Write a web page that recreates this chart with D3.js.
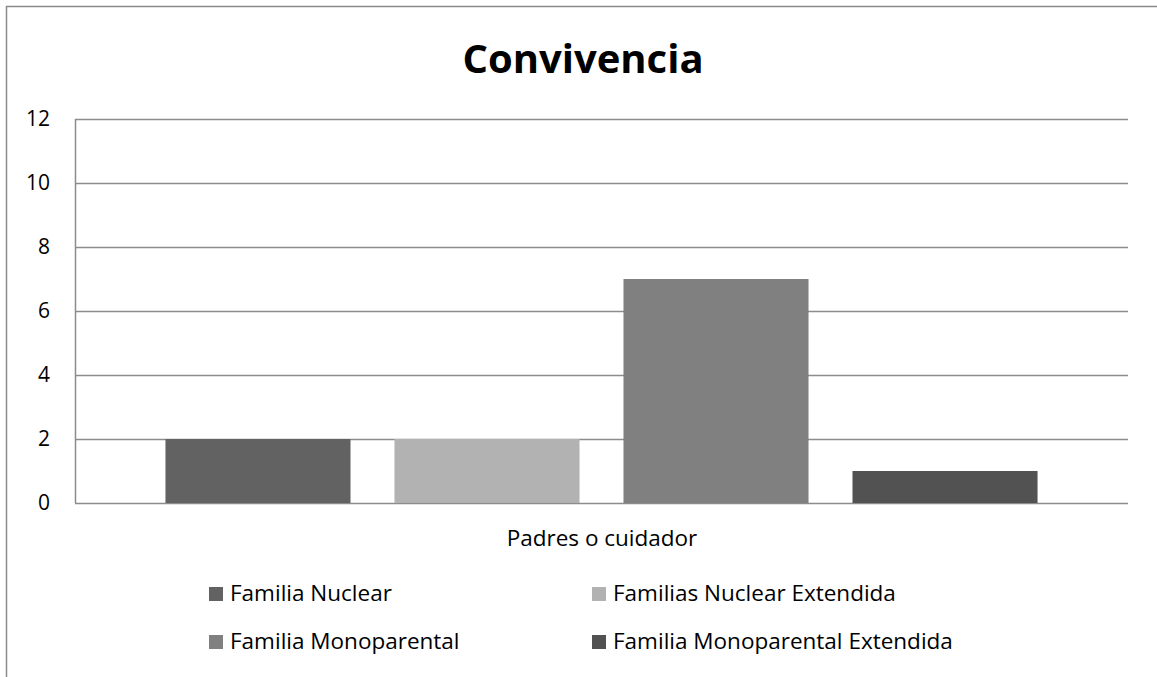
<!DOCTYPE html>
<html><head><meta charset="utf-8">
<script src="https://cdn.jsdelivr.net/npm/d3@7"></script>
<style>body{margin:0;background:#fff}svg{display:block}text{font-family:"Open Sans","Noto Sans",sans-serif;fill:#000}</style>
</head><body><svg id="c" width="1157" height="677"></svg>
<script>
const title = "Convivencia";
const category = "Padres o cuidador";
const series = ["Familia Nuclear","Familias Nuclear Extendida","Familia Monoparental","Familia Monoparental Extendida"];
const values = [2, 2, 7, 1];
const colors = ["#626262","#b2b2b2","#808080","#525252"];
const yTicks = [0,2,4,6,8,10,12];

const svg = d3.select("#c");
svg.append("path").attr("d","M6.5,677 L6.5,6.5 L1157,6.5").attr("fill","none").attr("stroke","#8a8a8a").attr("stroke-width",1.5);

const m = {l:75, r:1128, t:119, b:503};
const y = d3.scaleLinear().domain([0,12]).range([m.b,m.t]);
const x = d3.scaleBand().domain(series).range([m.l,m.r]).paddingInner(0.192).paddingOuter(0.395);

svg.append("g").selectAll("line").data(yTicks).join("line")
  .attr("x1",m.l).attr("x2",m.r).attr("y1",d=>y(d)+0.5).attr("y2",d=>y(d)+0.5)
  .attr("stroke","#8c8c8c").attr("stroke-width",1.5);
svg.append("line").attr("x1",m.l+0.5).attr("x2",m.l+0.5).attr("y1",m.t).attr("y2",m.b)
  .attr("stroke","#8c8c8c").attr("stroke-width",1.5);

const yAxis = d3.axisLeft(y).tickValues(yTicks).tickSize(0).tickPadding(25);
const ga = svg.append("g").attr("transform",`translate(${m.l},0)`).call(yAxis);
ga.select(".domain").remove();
ga.selectAll("text").attr("font-size",21).attr("font-family","'Open Sans',sans-serif").attr("fill","#000");

svg.append("g").selectAll("rect").data(series).join("rect")
  .attr("x",d=>x(d)).attr("width",x.bandwidth())
  .attr("y",(d,i)=>y(values[i])).attr("height",(d,i)=>m.b-y(values[i]))
  .attr("fill",(d,i)=>colors[i]);

svg.append("text").attr("x",583).attr("y",73).attr("text-anchor","middle")
  .attr("font-size",40).attr("font-weight","bold").text(title);
svg.append("text").attr("x",602).attr("y",546).attr("text-anchor","middle")
  .attr("font-size",22.5).text(category);

const legPos = [[209,601],[592,601],[209,649],[592,649]];
const lg = svg.append("g").selectAll("g").data(series).join("g")
  .attr("transform",(d,i)=>`translate(${legPos[i][0]},${legPos[i][1]})`);
lg.append("rect").attr("x",0).attr("y",-14).attr("width",14).attr("height",14).attr("fill",(d,i)=>colors[i]);
lg.append("text").attr("x",21).attr("y",0).attr("font-size",22.5).text(d=>d);
</script></body></html>
